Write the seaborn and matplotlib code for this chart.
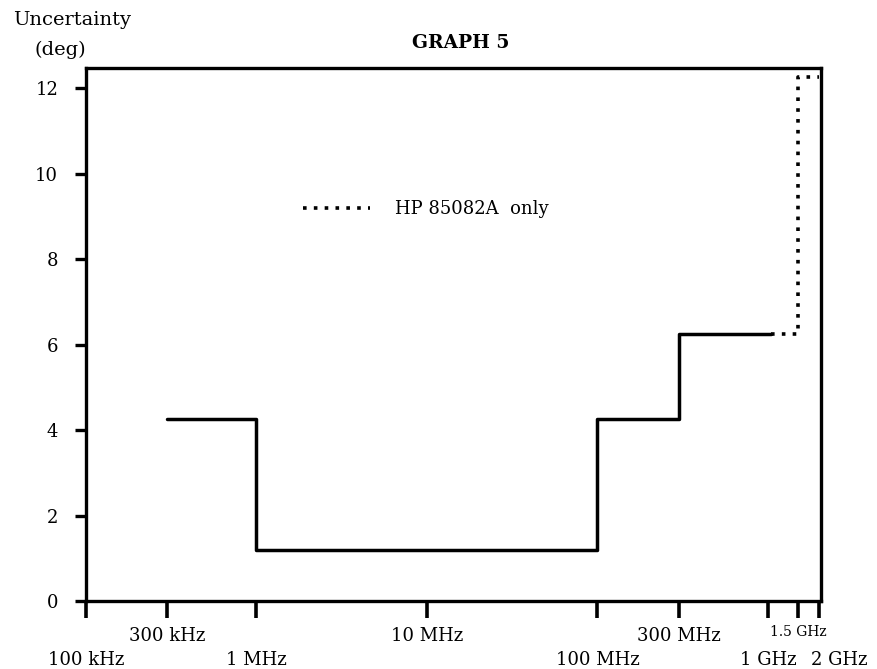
import matplotlib
matplotlib.use('Agg')
import matplotlib.pyplot as plt
import matplotlib.transforms as mtransforms
import seaborn as sns

# ---- data ----
freq_solid = [3e5, 1e6, 1e8, 3e8, 1.05e9]
unc_solid = [4.25, 1.2, 4.25, 6.25, 6.25]
freq_dotted = [1.05e9, 1.5e9, 2e9]
unc_dotted = [6.25, 12.25, 12.25]
tick_freqs = [1e5, 3e5, 1e6, 1e7, 1e8, 3e8, 1e9, 1.5e9, 2e9]
tick_labels = ['100 kHz', '300 kHz', '1 MHz', '10 MHz', '100 MHz',
               '300 MHz', '1 GHz', '1.5 GHz', '2 GHz']
y_ticks = [0, 2, 4, 6, 8, 10, 12]
legend_label = 'HP 85082A  only'
title = 'GRAPH 5'

sns.set_style('ticks')
plt.rcParams['font.family'] = ['DejaVu Serif']
plt.rcParams['text.color'] = 'black'
plt.rcParams['axes.edgecolor'] = 'black'

W, H = 878, 669
fig = plt.figure(figsize=(W / 100, H / 100), dpi=100)
ax = fig.add_axes([86 / W, (H - 601) / H, (821 - 86) / W, (601 - 68) / H])

sns.lineplot(x=freq_solid, y=unc_solid, drawstyle='steps-post', color='black',
             linewidth=2.5, sort=False, estimator=None, ax=ax)
sns.lineplot(x=freq_dotted, y=unc_dotted, drawstyle='steps-post', color='black',
             linewidth=2.6, linestyle=(0, (1, 2)), sort=False, estimator=None,
             ax=ax, label=legend_label)

ax.set_xscale('log')
ax.set_xlim(1e5, 2.05e9)
ax.set_ylim(0, 12.47)
ax.set_xticks(tick_freqs)
ax.set_xticklabels(tick_labels)
ax.set_yticks(y_ticks)
ax.minorticks_off()
ax.set_xlabel('')
ax.set_ylabel('')

for s in ax.spines.values():
    s.set_linewidth(2.4)
    s.set_color('black')

ax.tick_params(axis='x', length=12, width=2.6, direction='out', pad=7,
               labelsize=13, colors='black')
ax.tick_params(axis='y', length=8, width=2.4, direction='out', pad=12,
               labelsize=13, colors='black')

leg = ax.legend(loc='center left', bbox_to_anchor=(0.295, 0.735), frameon=False,
                handlelength=3.7, handletextpad=1.4, borderpad=0,
                borderaxespad=0, fontsize=13)

# two-row x tick labels
ticks = ax.xaxis.get_major_ticks()
for i, t in enumerate(ticks):
    if i in (0, 2, 4, 6, 8):
        t.set_pad(24)
    else:
        t.set_pad(7)
ticks[7].set_pad(5)
ticks[7].label1.set_fontsize(10)
ticks[8].label1.set_transform(ticks[8].label1.get_transform() +
                              mtransforms.ScaledTranslation(0.2, 0, fig.dpi_scale_trans))

fig.text(461 / W, 1 - 43 / H, title, ha='center', va='center',
         fontsize=13.5, fontweight='bold')
fig.text(13 / W, 1 - 20 / H, 'Uncertainty', ha='left', va='center', fontsize=14)
fig.text(35 / W, 1 - 50 / H, '(deg)', ha='left', va='center', fontsize=14)

fig.savefig('out.png', dpi=100)
